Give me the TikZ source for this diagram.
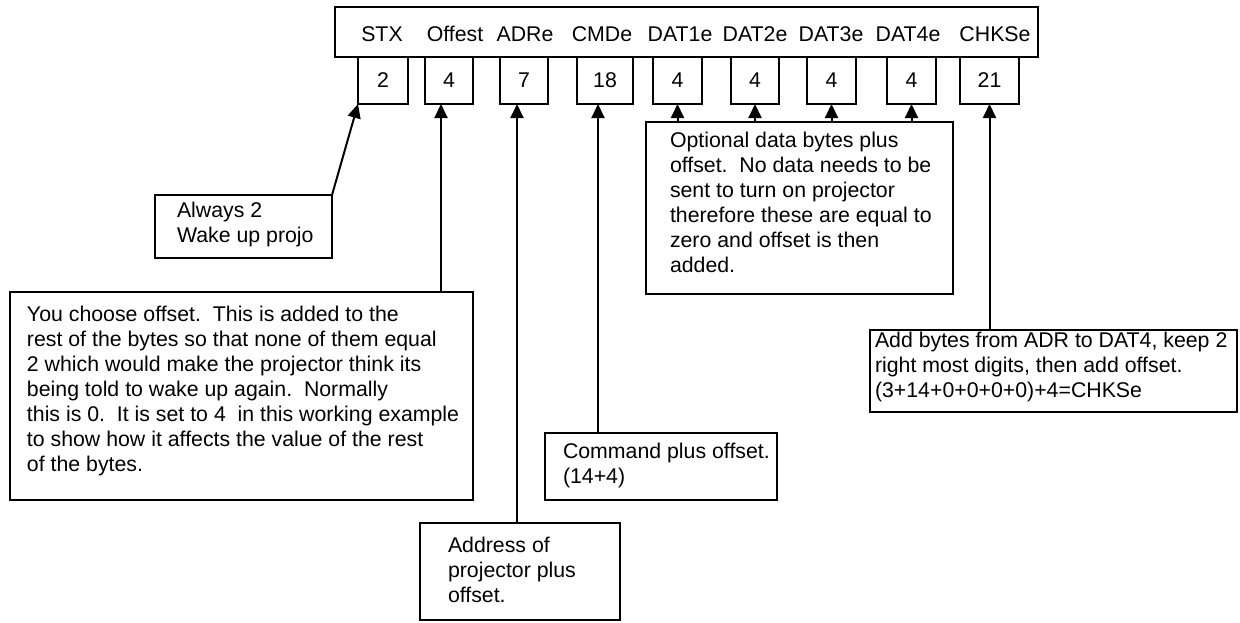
\documentclass[tikz,border=0pt]{standalone}
\usepackage{fontspec}
\setmainfont{Liberation Sans}
\usetikzlibrary{arrows.meta}
\newcommand\lnstrut{\rule{0pt}{16pt}}
\begin{document}
\begin{tikzpicture}[x=1pt,y=-1pt,
  every node/.style={inner sep=0pt, outer sep=0pt, font=\fontsize{21.3}{25}\selectfont},
  box/.style={draw, line width=2pt, anchor=north west},
  txt/.style={align=left, anchor=north west},
  lbl/.style={anchor=base},
  arr/.style={line width=2pt, -{Triangle[width=13pt,length=14pt]}}]
\useasboundingbox (0,0) rectangle (1240,622);

% header
\node[box, minimum width=703pt, minimum height=50pt] (hdr) at (335,7) {};
\node[lbl] (lSTX) at (382,41) {STX};
\node[lbl] (lOff) at (455,41) {Offest};
\node[lbl] (lADR) at (525,41) {ADRe};
\node[lbl] (lCMD) at (602,41) {CMDe};
\node[lbl] (lD1) at (680,41) {DAT1e};
\node[lbl] (lD2) at (755,41) {DAT2e};
\node[lbl] (lD3) at (831,41) {DAT3e};
\node[lbl] (lD4) at (908,41) {DAT4e};
\node[lbl] (lCHK) at (995,41) {CHKSe};

% value boxes
\node[box, minimum width=50pt, minimum height=47pt] (vSTX) at (358,57) {2};
\node[box, minimum width=48pt, minimum height=47pt] (vOff) at (425,57) {4};
\node[box, minimum width=48pt, minimum height=47pt] (vADR) at (500,57) {7};
\node[box, minimum width=56pt, minimum height=47pt] (vCMD) at (577,57) {18};
\node[box, minimum width=49pt, minimum height=47pt] (vD1) at (653,57) {4};
\node[box, minimum width=48pt, minimum height=47pt] (vD2) at (731,57) {4};
\node[box, minimum width=49pt, minimum height=47pt] (vD3) at (807,57) {4};
\node[box, minimum width=49pt, minimum height=47pt] (vD4) at (887,57) {4};
\node[box, minimum width=59pt, minimum height=47pt] (vCHK) at (960,57) {21};

% annotation boxes
\node[box, minimum width=177pt, minimum height=63pt] (bSTX) at (155,195) {};
\node[txt] (tSTX) at (177,201) {\lnstrut Always 2\\Wake up projo};

\node[box, minimum width=463pt, minimum height=208pt] (bOff) at (10,292) {};
\node[txt] (tOff) at (27,305) {\lnstrut You choose offset.\ \ This is added to the\\
rest of the bytes so that none of them equal\\
2 which would make the projector think its\\
being told to wake up again.\ \ Normally\\
this is 0.\ \ It is set to 4\ \ in this working example\\
to show how it affects the value of the rest\\
of the bytes.};

\node[box, minimum width=200pt, minimum height=97pt] (bADR) at (420,523) {};
\node[txt] (tADR) at (448,536) {\lnstrut Address of\\projector plus\\offset.};

\node[box, minimum width=232pt, minimum height=67pt] (bCMD) at (545,433) {};
\node[txt] (tCMD) at (563,442) {\lnstrut Command plus offset.\\(14+4)};

\node[box, minimum width=307pt, minimum height=172pt] (bDAT) at (646,122) {};
\node[txt] (tDAT) at (670,131) {\lnstrut Optional data bytes plus\\
offset.\ \ No data needs to be\\
sent to turn on projector\\
therefore these are equal to\\
zero and offset is then\\
added.};

\node[box, minimum width=367pt, minimum height=82pt] (bCHK) at (870,330) {};
\node[txt] (tCHK) at (875,331) {\lnstrut Add bytes from ADR to DAT4, keep 2\\
right most digits, then add offset.\\
(3+14+0+0+0+0)+4=CHKSe};

% connectors
\coordinate (aOff) at (441,104);
\coordinate (aADR) at (517,104);
\coordinate (aCMD) at (598,104);
\draw[arr] (bSTX.north east) -- (vSTX.south west);
\draw[arr] (aOff |- bOff.north) -- (aOff);
\draw[arr] (aADR |- bADR.north) -- (aADR);
\draw[arr] (aCMD |- bCMD.north) -- (aCMD);
\draw[arr] (vD1.south |- bDAT.north) -- (vD1.south);
\draw[arr] (vD2.south |- bDAT.north) -- (vD2.south);
\draw[arr] (vD3.south |- bDAT.north) -- (vD3.south);
\draw[arr] (vD4.south |- bDAT.north) -- (vD4.south);
\draw[arr] (vCHK.south |- bCHK.north) -- (vCHK.south);
\end{tikzpicture}
\end{document}
